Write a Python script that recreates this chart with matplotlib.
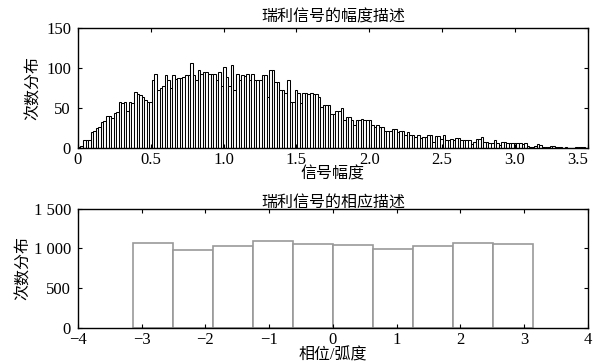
import numpy as np
import matplotlib.pyplot as plt
from matplotlib.ticker import FuncFormatter

plt.rcParams['font.family'] = ['Liberation Serif', 'Noto Sans CJK SC']
plt.rcParams['axes.unicode_minus'] = True

# amplitude histogram (Rayleigh), bin width 0.0175 starting at 0
amp_bin_width = 0.0175
amp_counts = [
    2, 3, 10, 10, 10, 20, 21, 25, 26, 33,
    34, 40, 40, 38, 44, 45, 58, 57, 58, 47,
    58, 57, 70, 68, 66, 64, 60, 58, 58, 85,
    93, 72, 75, 77, 91, 85, 75, 91, 86, 87,
    87, 89, 91, 91, 106, 91, 85, 97, 93, 95,
    95, 93, 93, 93, 85, 95, 78, 101, 89, 78,
    104, 72, 93, 85, 91, 90, 93, 85, 93, 85,
    85, 85, 91, 91, 64, 97, 97, 83, 82, 72,
    72, 69, 85, 58, 58, 72, 69, 56, 69, 69,
    68, 69, 68, 68, 64, 52, 54, 54, 54, 43,
    43, 46, 46, 50, 35, 39, 39, 35, 29, 35,
    35, 37, 35, 35, 35, 29, 27, 29, 27, 27,
    22, 22, 22, 24, 24, 20, 22, 22, 16, 20,
    17, 17, 14, 17, 13, 14, 14, 16, 16, 8,
    15, 15, 11, 16, 10, 10, 11, 10, 13, 13,
    10, 10, 10, 10, 5, 8, 11, 11, 14, 8,
    8, 7, 7, 10, 6, 4, 8, 8, 7, 6,
    6, 7, 6, 6, 5, 6, 3, 2, 2, 3,
    5, 4, 1, 1, 1, 3, 3, 2, 2, 2,
    0, 1, 0, 0, 0, 1, 1, 1, 1,
]

# phase histogram, 10 bins over [-pi, pi]
phase_counts = [1060, 976, 1030, 1093, 1048, 1039, 989, 1030, 1068, 1055]

amp_left = np.arange(len(amp_counts)) * amp_bin_width
phase_edges = np.linspace(-np.pi, np.pi, len(phase_counts) + 1)

fig = plt.figure(figsize=(5.95, 3.64), dpi=100)
ax1 = fig.add_axes([0.131, 0.593, 0.857, 0.330])
ax2 = fig.add_axes([0.131, 0.100, 0.857, 0.327])

ax1.bar(amp_left, amp_counts, width=amp_bin_width, align='edge',
        facecolor='white', edgecolor='black', linewidth=0.75)
ax1.set_xlim(0, 3.5)
ax1.set_ylim(0, 150)
ax1.set_xticks([0, 0.5, 1.0, 1.5, 2.0, 2.5, 3.0, 3.5])
ax1.set_xticklabels(['0', '0.5', '1.0', '1.5', '2.0', '2.5', '3.0', '3.5'])
ax1.set_yticks([0, 50, 100, 150])
ax1.set_title('瑞利信号的幅度描述', fontsize=11.5, pad=5)
ax1.set_xlabel('信号幅度', fontsize=11.5, labelpad=-1)
ax1.set_ylabel('次数分布', fontsize=11.5, labelpad=3)

ax2.bar(phase_edges[:-1], phase_counts, width=np.diff(phase_edges), align='edge',
        facecolor='white', edgecolor='#999999', linewidth=1.2)
ax2.set_xlim(-4, 4)
ax2.set_ylim(0, 1500)
ax2.set_xticks(range(-4, 5))
ax2.set_yticks([0, 500, 1000, 1500])
ax2.yaxis.set_major_formatter(FuncFormatter(
    lambda v, p: f'{int(v):,}'.replace(',', ' ')))
ax2.set_title('瑞利信号的相应描述', fontsize=11.5, pad=1)
ax2.set_xlabel('相位/弧度', fontsize=11.5, labelpad=0)
ax2.set_ylabel('次数分布', fontsize=11.5, labelpad=1)

for ax in (ax1, ax2):
    ax.tick_params(direction='in', top=True, right=True, length=3,
                   width=0.8, labelsize=12)
    ax.tick_params(axis='x', pad=3)
    ax.tick_params(axis='y', pad=5)
    for s in ax.spines.values():
        s.set_linewidth(1.0)

# keep the last top-chart tick label inside the figure
ax1.get_xticklabels()[-1].set_horizontalalignment('right')
ax1.get_xticklabels()[-1].set_x(3.5)

fig.savefig('out.png', dpi=100)
